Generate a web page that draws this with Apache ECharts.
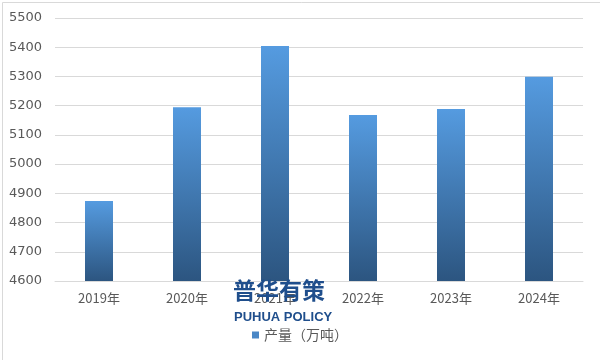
<!DOCTYPE html>
<html><head><meta charset="utf-8">
<script src="https://cdn.jsdelivr.net/npm/echarts@6/dist/echarts.min.js"></script>
<style>html,body{margin:0;padding:0;background:#fff}#c{width:600px;height:360px}</style>
</head><body><div id="c"></div>
<script>
const categories = ['2019年','2020年','2021年','2022年','2023年','2024年'];
const production = [4874, 5195, 5404, 5168, 5189, 5299];
const seriesName = '产量（万吨）';

const chart = echarts.init(document.getElementById('c'));
chart.setOption({
  animation: false,
  backgroundColor: '#fff',
  textStyle: { fontFamily: '"Noto Sans CJK SC",sans-serif' },
  grid: { left: 55, right: 17, top: 18, bottom: 79, containLabel: false },
  legend: {
    bottom: 13, left: 'center',
    itemWidth: 7, itemHeight: 7, itemGap: 4,
    icon: 'rect',
    textStyle: { color: '#595959', fontSize: 14, fontFamily: '"Noto Sans CJK SC",sans-serif' },
    data: [{ name: seriesName, itemStyle: { color: '#4a87c6' } }]
  },
  xAxis: {
    type: 'category', data: categories,
    axisLine: { show: true, lineStyle: { color: '#d9d9d9' } },
    axisTick: { show: false },
    axisLabel: { color: '#595959', fontSize: 13, margin: 11, fontFamily: '"Noto Sans CJK SC",sans-serif' }
  },
  yAxis: {
    type: 'value', min: 4600, max: 5500, interval: 100,
    axisLine: { show: false }, axisTick: { show: false },
    axisLabel: { color: '#595959', fontSize: 13, margin: 13, formatter: v => String(v),
      fontFamily: '"DejaVu Sans",sans-serif' },
    splitLine: { lineStyle: { color: '#d9d9d9' } }
  },
  series: [{
    name: seriesName, type: 'bar', data: production, barWidth: 28,
    itemStyle: {
      color: new echarts.graphic.LinearGradient(0, 0, 0, 1, [
        { offset: 0, color: '#559be0' },
        { offset: 1, color: '#2c5580' }
      ])
    }
  }],
  graphic: [
    { type: 'rect', left: 0, top: 0, shape: { width: 599, height: 359 },
      style: { fill: 'none', stroke: '#d9d9d9', lineWidth: 1 }, silent: true, z: 1 },
    { type: 'text', left: 233, top: 279, z: 100,
      style: { text: '普华有策', fill: '#1f4e8c', font: 'bold 23px "Noto Sans CJK SC",sans-serif' } },
    { type: 'text', left: 234, top: 311, z: 100,
      style: { text: 'PUHUA POLICY', fill: '#1f4e8c', font: 'bold 13px "Liberation Sans",Arial,sans-serif' } }
  ]
});
</script></body></html>
